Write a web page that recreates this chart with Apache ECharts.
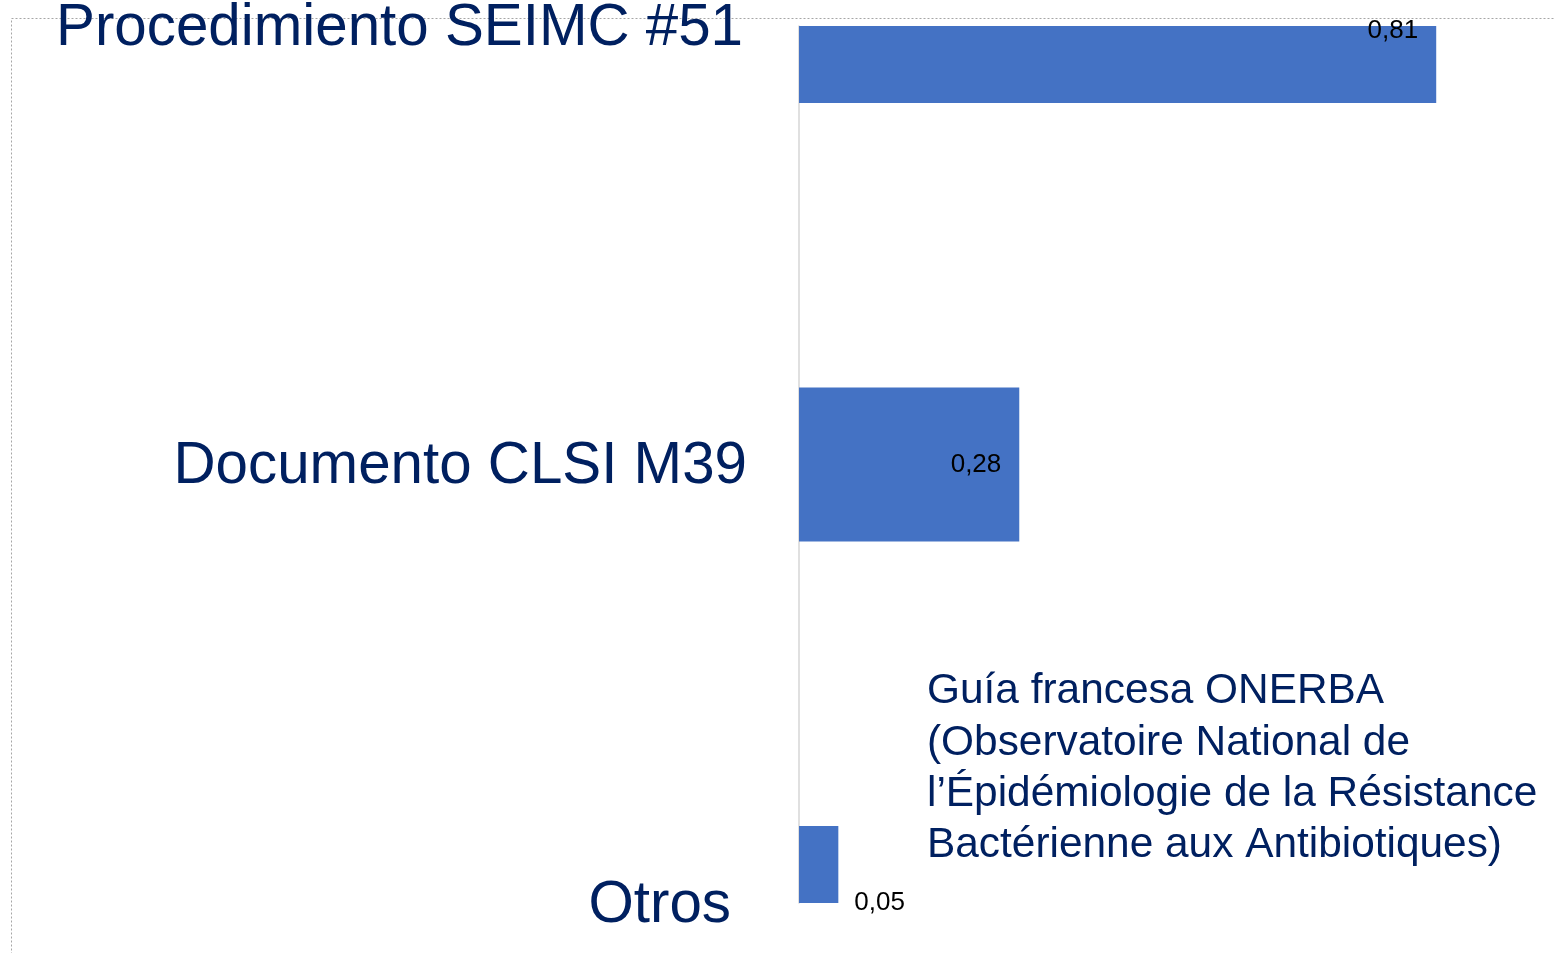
<!DOCTYPE html>
<html>
<head>
<meta charset="utf-8">
<title>Documentos de referencia</title>
<script src="https://cdn.jsdelivr.net/npm/echarts@6/dist/echarts.min.js"></script>
<style>
  html, body { margin: 0; padding: 0; background: #fff; }
  #chart { width: 1555px; height: 953px; }
</style>
</head>
<body>
<div id="chart"></div>
<script>
// datos
var categories = ["Procedimiento SEIMC #51", "Documento CLSI M39", "Otros"];
var values = [0.81, 0.28, 0.05];
var noteLines = [
  "Guía francesa ONERBA",
  "(Observatoire National de",
  "l\u2019Épidémiologie de la Résistance",
  "Bactérienne aux Antibiotiques)"
];

var navy = "#002060";
var barColor = "#4472C4";
var font = "Liberation Sans, Arial, sans-serif";
// separación extra a la derecha de cada etiqueta de categoría
var labelPad = [4, 0, 16];
var barHeight = 154;

var rich = {};
categories.forEach(function (c, i) {
  rich["c" + i] = {
    fontSize: 58.3,
    color: navy,
    fontFamily: font,
    padding: [5, labelPad[i], 0, 0]
  };
});

function fmt(v) {
  return v.toFixed(2).replace(".", ",");
}

// barra recortada al área del gráfico (como en el original)
function renderBar(params, api) {
  var v = api.value(0);
  var idx = api.value(1);
  var p0 = api.coord([0, idx]);
  var p1 = api.coord([v, idx]);
  var cs = params.coordSys;
  var area = { x: cs.x, y: cs.y, width: cs.width, height: cs.height };
  var rect = echarts.graphic.clipRectByRect({
    x: p0[0],
    y: p0[1] - barHeight / 2,
    width: p1[0] - p0[0],
    height: barHeight
  }, area);
  var small = v < 0.1;
  var ly = Math.min(Math.max(p0[1], cs.y + 5), cs.y + cs.height);
  var children = [];
  if (rect) {
    children.push({ type: "rect", shape: rect, style: { fill: barColor } });
  }
  children.push({
    type: "text",
    x: small ? p1[0] + 16 : p1[0] - 18,
    y: ly,
    style: {
      text: fmt(v),
      align: small ? "left" : "right",
      verticalAlign: "middle",
      fontSize: 26,
      fontFamily: font,
      fill: "#000"
    }
  });
  return { type: "group", children: children };
}

var chart = echarts.init(document.getElementById("chart"));
chart.setOption({
  animation: false,
  title: {
    text: noteLines.join("\n"),
    left: 927,
    top: 666,
    padding: 0,
    textStyle: {
      fontSize: 42.4,
      lineHeight: 51.3,
      fontWeight: "normal",
      color: navy,
      fontFamily: font
    }
  },
  graphic: [
    {
      type: "rect",
      z: -10,
      silent: true,
      shape: { x: 11.5, y: 18.5, width: 1700, height: 1200 },
      style: { fill: "none", stroke: "#a6a6a6", lineWidth: 1, lineDash: [2, 2] }
    }
  ],
  grid: {
    left: 799,
    right: 0,
    top: 26,
    bottom: 50,
    containLabel: false,
    outerBoundsMode: "none"
  },
  xAxis: {
    type: "value",
    min: 0,
    max: 0.961,
    show: false
  },
  yAxis: {
    type: "category",
    data: categories,
    inverse: true,
    boundaryGap: false,
    axisTick: { show: false },
    axisLine: { show: true, lineStyle: { color: "#d6d6d6", width: 1.5 } },
    axisLabel: {
      margin: 52,
      fontSize: 58.3,
      color: navy,
      fontFamily: font,
      formatter: function (v, i) { return "{c" + i + "|" + v + "}"; },
      rich: rich
    },
    splitLine: { show: false }
  },
  series: [
    {
      type: "custom",
      renderItem: renderBar,
      encode: { x: 0, y: 1 },
      data: values.map(function (v, i) { return [v, i]; })
    }
  ]
});
</script>
</body>
</html>
